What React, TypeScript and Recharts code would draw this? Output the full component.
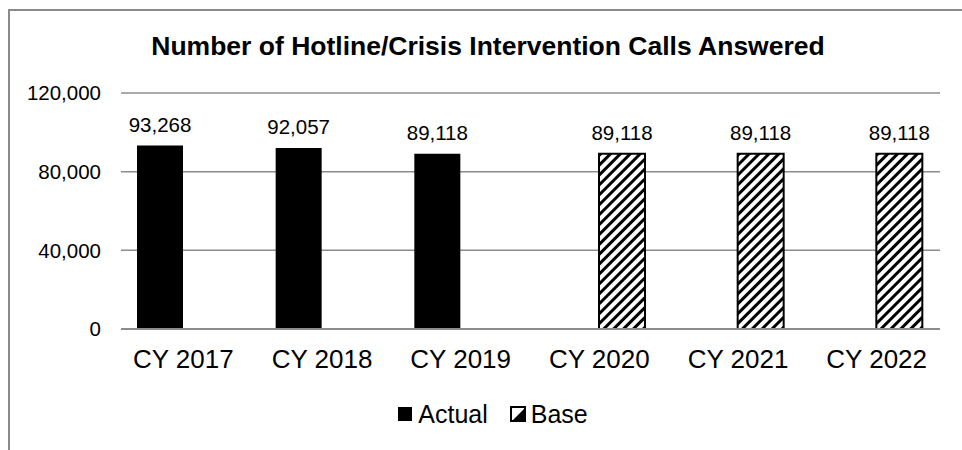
import * as React from "react"
import { Bar, BarChart, CartesianGrid, LabelList, Legend, XAxis, YAxis } from "recharts"

const categories = ["CY 2017", "CY 2018", "CY 2019", "CY 2020", "CY 2021", "CY 2022"]
const actualValues = [93268, 92057, 89118, null, null, null]
const baseValues = [null, null, null, 89118, 89118, 89118]
const yTicks = [0, 40000, 80000, 120000]

const data = categories.map((name, i) => ({
  name,
  actual: actualValues[i],
  base: baseValues[i],
}))

const fmt = (v: any) => (v == null || v === "" ? "" : Number(v).toLocaleString("en-US"))
const gridColor = "#8c8c8c"

function ChartLegend() {
  return (
    <div
      style={{
        display: "flex",
        justifyContent: "center",
        alignItems: "center",
        fontSize: 25,
        color: "#000",
        lineHeight: "30px",
        height: 30,
      }}
    >
      <svg width={14} height={14} style={{ marginRight: 6 }}>
        <rect x={0} y={0} width={14} height={14} fill="#000" />
      </svg>
      <span style={{ marginRight: 22 }}>Actual</span>
      <svg width={16} height={16} style={{ marginRight: 5 }}>
        <rect x={1} y={1} width={14} height={14} fill="#fff" stroke="#000" strokeWidth={2} />
        <polygon points="14,3 14,14 3,14" fill="#000" />
      </svg>
      <span>Base</span>
    </div>
  )
}

export default function App() {
  return (
    <div
      style={{
        position: "fixed",
        left: 0,
        top: 0,
        width: 962,
        height: 450,
        overflow: "hidden",
        background: "#fff",
        fontFamily: "'Liberation Sans', Arial, sans-serif",
      }}
    >
      <div
        style={{
          position: "absolute",
          left: 8,
          top: 9,
          width: 1000,
          height: 500,
          borderTop: "2px solid #8a8a8a",
          borderLeft: "2px solid #8a8a8a",
        }}
      />
      <div style={{ position: "absolute", left: 0, top: 0 }}>
        <BarChart
          width={962}
          height={450}
          data={data}
          margin={{ top: 93, right: 22, bottom: 91, left: 0 }}
          barGap={0}
          barSize={46}
        >
          <defs>
            <pattern
              id="hatch"
              patternUnits="userSpaceOnUse"
              width={7}
              height={7}
              patternTransform="rotate(45)"
            >
              <rect x={0} y={0} width={7} height={7} fill="#fff" />
              <rect x={0} y={0} width={3} height={7} fill="#000" />
            </pattern>
          </defs>
          <text x={488} y={55} textAnchor="middle" fontSize={26.5} fontWeight="bold" fill="#000">
            Number of Hotline/Crisis Intervention Calls Answered
          </text>
          <CartesianGrid vertical={false} stroke={gridColor} strokeWidth={1.5} />
          <XAxis
            dataKey="name"
            padding={{ left: -7, right: -6 }}
            axisLine={{ stroke: gridColor, strokeWidth: 2 }}
            tickLine={false}
            tickSize={0}
            tickMargin={21}
            tick={{ fill: "#000", fontSize: 26 }}
          />
          <YAxis
            width={121}
            domain={[0, 120000]}
            ticks={yTicks}
            axisLine={false}
            tickLine={false}
            tickSize={0}
            tickMargin={20}
            tickFormatter={fmt}
            tick={{ fill: "#000", fontSize: 20.5 }}
          />
          <Legend
            verticalAlign="middle"
            align="center"
            content={() => <ChartLegend />}
            wrapperStyle={{ top: 399, left: 12, width: 962 }}
          />
          <Bar dataKey="actual" name="Actual" fill="#000" isAnimationActive={false}>
            <LabelList dataKey="actual" position="top" offset={14} fontSize={20.5} fill="#000" formatter={fmt} />
          </Bar>
          <Bar
            dataKey="base"
            name="Base"
            fill="url(#hatch)"
            stroke="#000"
            strokeWidth={2}
            isAnimationActive={false}
          >
            <LabelList dataKey="base" position="top" offset={14} fontSize={20.5} fill="#000" formatter={fmt} />
          </Bar>
        </BarChart>
      </div>
    </div>
  )
}
